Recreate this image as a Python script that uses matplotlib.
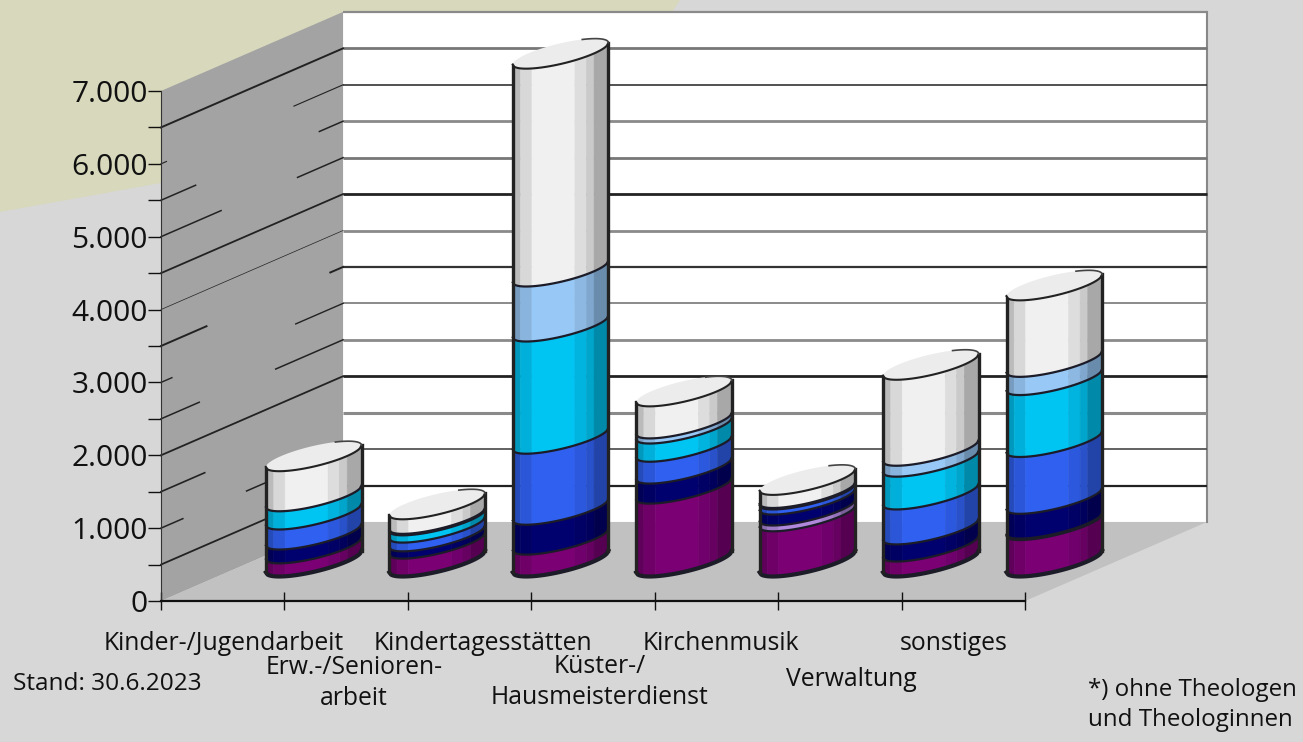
import numpy as np
import matplotlib
matplotlib.use("Agg")
import matplotlib.pyplot as plt

plt.rcParams["font.family"] = ["Open Sans", "DejaVu Sans"]

# Werte je Bereich, von unten nach oben gestapelt
BEREICHE = ["Kinder-/Jugendarbeit", "Erw.-/Senioren-\narbeit", "Kindertagesstätten",
            "Küster-/\nHausmeisterdienst", "Kirchenmusik", "Verwaltung", "sonstiges"]
lila = [180, 245, 300, 1000, 620, 205, 500]
flieder = [0, 0, 0, 0, 80, 0, 20]
dunkelblau = [190, 100, 410, 275, 150, 235, 340]
blau = [275, 120, 975, 300, 70, 480, 780]
cyan = [250, 100, 1540, 250, 20, 450, 850]
hellblau = [0, 20, 755, 70, 0, 150, 250]
weiss = [550, 200, 2990, 440, 180, 1180, 1050]
SERIEN = [lila, flieder, dunkelblau, blau, cyan, hellblau, weiss]
FARBEN = ["#7a0074", "#b088dc", "#00006e", "#3060f0", "#00c4f2", "#98c8f6", "#f0f0f0"]

Y_TICKS = list(range(0, 7500, 500))
Y_LABELS = ["0", "", "1.000", "", "2.000", "", "3.000", "", "4.000", "", "5.000", "", "6.000", "", "7.000"]
GITTER_FARBE = ["#444444", "#222222", "#555555", "#8a8a8a", "#222222", "#8a8a8a", "#8a8a8a", "#333333",
                "#8a8a8a", "#222222", "#777777", "#8a8a8a", "#333333", "#777777", "#8a8a8a"]
GITTER_DICKE = [0, 1.6, 1.3, 2.2, 2.0, 2.0, 1.4, 1.6, 2.0, 2.0, 2.0, 2.0, 1.2, 2.0, 1.6]
# Stuecke der Linien auf der linken Wand (Anteil der Tiefe)
WAND_LINIEN = [[], [(0, 0.57)], [(0, 0.12), (0.47, 0.57)], [(0, 0.24)], [(0, 1)], [(0, 0.21), (0.63, 1)],
               [(0, 0.06), (0.74, 1)], [(0, 0.25), (0.93, 1)], [(0, 1)], [(0, 1)], [(0, 0.33), (0.75, 1)],
               [(0, 0.19), (0.87, 1)], [(0, 0.03), (0.73, 1)], [(0, 1)], []]
WAND_DICKE = [0, 1.3, 1.1, 1.2, 1.3, 1.1, 1.0, 1.4, 0.5, 1.3, 1.1, 1.1, 0.8, 1.4, 0]

# Tiefe der Grafik
TIEFE_X = 1.475
TIEFE_Y = 1085
RADIUS_X = 0.267
RADIUS_T = 0.19
STREIFEN = [0, 0.08, 0.2, 0.65, 0.77, 0.85, 1]
SCHATTEN = [0.78, 0.9, 1.0, 0.92, 0.84, 0.7]

BREITE, HOEHE = 1303, 742
PX_X = 123.43
PX_Y = 72.86 / 1000


def fx(x):
    return x / BREITE


def fy(y):
    return 1 - y / HOEHE


def dunkler(farbe, faktor):
    r, g, b = matplotlib.colors.to_rgb(farbe)
    return (r * faktor, g * faktor, b * faktor)


def ellipse(cx, wert, t):
    ux = RADIUS_X
    vx = RADIUS_T * TIEFE_X
    x = cx + ux * np.cos(t) + vx * np.sin(t)
    y = wert + RADIUS_T * TIEFE_Y * np.sin(t)
    return x, y


def vorderkante(cx, wert, anteile):
    # Punkte auf der vorderen Ellipsenhaelfte
    phi = np.arctan2(RADIUS_T * TIEFE_X, RADIUS_X)
    s = np.arccos(1 - 2 * np.asarray(anteile))
    return ellipse(cx, wert, phi - np.pi + s)


def zeichne_saeule(ax, i):
    cx = i + 0.5 + 0.5 * TIEFE_X
    basis = 0.5 * TIEFE_Y
    unten = basis
    z = 5 + i * 0.1
    for serie, farbe in zip(SERIEN, FARBEN):
        wert = serie[i]
        if wert == 0:
            continue
        oben = unten + wert
        for k in range(len(SCHATTEN)):
            f = np.linspace(STREIFEN[k], STREIFEN[k + 1], 14)
            x0, y0 = vorderkante(cx, unten, f)
            x1, y1 = vorderkante(cx, oben, f)
            c = dunkler(farbe, SCHATTEN[k])
            ax.fill(np.r_[x0, x1[::-1]], np.r_[y0, y1[::-1]], color=c, lw=0.4, zorder=z)
        x, y = vorderkante(cx, unten, np.linspace(0, 1, 60))
        dicke = 3.0 if unten == basis else 1.6
        ax.plot(x, y, color="#1c1c28", lw=dicke, zorder=z + 0.01)
        unten = oben
    # Deckel, nur die Vorderkante und rechts ein Stueck hinten hat eine Linie
    t = np.linspace(0, 2 * np.pi, 120)
    x, y = ellipse(cx, unten, t)
    ax.fill(x, y, color="#ececec", lw=0, zorder=z + 0.03)
    x, y = vorderkante(cx, unten, np.linspace(0, 1, 60))
    ax.plot(x, y, color="#222222", lw=1.5, zorder=z + 0.04)
    phi = np.arctan2(RADIUS_T * TIEFE_X, RADIUS_X)
    x, y = ellipse(cx, unten, np.linspace(phi, phi + 1.1, 20))
    ax.plot(x, y, color="#444444", lw=1.2, zorder=z + 0.04)
    # Seitenkanten
    for f in [0.0, 1.0]:
        x0, y0 = vorderkante(cx, basis, [f])
        x1, y1 = vorderkante(cx, unten, [f])
        ax.plot([x0[0], x1[0]], [y0[0], y1[0]], color="#222222", lw=2.4, zorder=z + 0.02)


def main():
    fig = plt.figure(figsize=(BREITE / 100, HOEHE / 100), dpi=100, facecolor="#d7d7d7")
    ax = fig.add_axes([0, 0, 1, 1])
    ax.set_xlim(-161 / PX_X, (BREITE - 161) / PX_X)
    ax.set_ylim(-(HOEHE - 601) / PX_Y, 601 / PX_Y)
    ax.patch.set_alpha(0)

    # Hintergrundflaeche oben links
    ax.fill([fx(0), fx(680), fx(600), fx(161), fx(0)], [fy(0), fy(0), fy(120), fy(183), fy(212)],
            color="#d8d8bc", transform=ax.transAxes, lw=0, zorder=0)

    # Rueckwand, Seitenwand, Boden
    ax.fill([TIEFE_X, 7 + TIEFE_X, 7 + TIEFE_X, TIEFE_X],
            [TIEFE_Y, TIEFE_Y, 7000 + TIEFE_Y, 7000 + TIEFE_Y], color="white", lw=0, zorder=1)
    ax.fill([0, TIEFE_X, TIEFE_X, 0], [0, TIEFE_Y, 7000 + TIEFE_Y, 7000], color="#a3a3a3", lw=0, zorder=1)
    ax.fill([0, 7, 7 + TIEFE_X, TIEFE_X], [0, 0, TIEFE_Y, TIEFE_Y], color="#c1c1c1", lw=0, zorder=1)
    ax.plot([7 + TIEFE_X, 7 + TIEFE_X], [TIEFE_Y, 7000 + TIEFE_Y], color="#888888", lw=1.5, zorder=2)

    for n, wert in enumerate(Y_TICKS):
        if wert > 0:
            ax.plot([TIEFE_X, 7 + TIEFE_X], [wert + TIEFE_Y, wert + TIEFE_Y], color=GITTER_FARBE[n],
                    lw=GITTER_DICKE[n], zorder=2, solid_capstyle="butt")
        for a, b in WAND_LINIEN[n]:
            ax.plot([a * TIEFE_X, b * TIEFE_X], [wert + a * TIEFE_Y, wert + b * TIEFE_Y],
                    color="#222222", lw=WAND_DICKE[n], zorder=2)

    for i in range(len(BEREICHE)):
        zeichne_saeule(ax, i)

    # Achsen
    for seite in ["top", "right"]:
        ax.spines[seite].set_visible(False)
    ax.spines["left"].set_position(("data", 0))
    ax.spines["bottom"].set_position(("data", 0))
    ax.spines["left"].set_bounds(0, 7000)
    ax.spines["bottom"].set_bounds(0, 7)
    ax.spines["left"].set_color("#333333")
    ax.spines["bottom"].set_linewidth(1.6)
    ax.spines["bottom"].set_color("#111111")
    ax.set_xticks(range(8))
    ax.set_xticklabels([""] * 8)
    ax.tick_params(axis="x", direction="inout", length=13, width=1, color="#111111")
    ax.set_yticks(Y_TICKS)
    ax.set_yticklabels(Y_LABELS, fontsize=21.5, color="#111111")
    ax.tick_params(axis="y", direction="out", length=9.5, width=1, color="#111111", pad=0)

    # Beschriftungen in zwei Reihen
    label_x = [224, 354, 483, 600, 721, 851, 954]
    label_y = [644, 683, 644, 682, 644, 680, 644]
    for name, x, y in zip(BEREICHE, label_x, label_y):
        ax.text(fx(x), fy(y), name, transform=ax.transAxes, ha="center", va="center",
                fontsize=17.8, color="#111111", linespacing=1.32, zorder=9)
    ax.text(fx(13), fy(684), "Stand: 30.6.2023", transform=ax.transAxes, ha="left", va="center",
            fontsize=17.6, color="#111111")
    ax.text(fx(1088), fy(705), "*) ohne Theologen\nund Theologinnen", transform=ax.transAxes, ha="left",
            va="center", fontsize=17.4, color="#111111", linespacing=1.3)

    fig.savefig("out.png", dpi=100, facecolor=fig.get_facecolor())


main()
